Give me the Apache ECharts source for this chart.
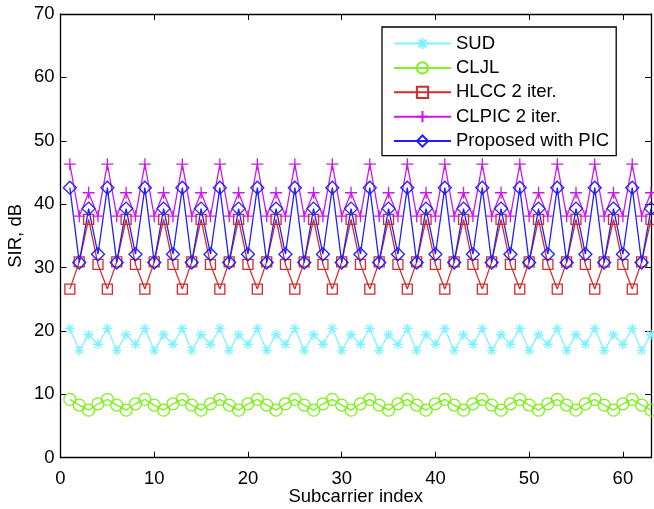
<!DOCTYPE html>
<html>
<head>
<meta charset="utf-8">
<script src="https://cdn.jsdelivr.net/npm/echarts@6/dist/echarts.min.js"></script>
<style>html,body{margin:0;padding:0;background:#fff;}#c{width:654px;height:509px;}</style>
</head>
<body>
<div id="c"></div>
<script>
const subcarrier = [1,2,3,4,5,6,7,8,9,10,11,12,13,14,15,16,17,18,19,20,21,22,23,24,25,26,27,28,29,30,31,32,33,34,35,36,37,38,39,40,41,42,43,44,45,46,47,48,49,50,51,52,53,54,55,56,57,58,59,60,61,62,63];
const sud = [20.4,16.9,19.4,17.9, 20.4,16.9,19.4,17.9, 20.4,16.9,19.4,17.9, 20.4,16.9,19.4,17.9, 20.4,16.9,19.4,17.9, 20.4,16.9,19.4,17.9, 20.4,16.9,19.4,17.9, 20.4,16.9,19.4,17.9, 20.4,16.9,19.4,17.9, 20.4,16.9,19.4,17.9, 20.4,16.9,19.4,17.9, 20.4,16.9,19.4,17.9, 20.4,16.9,19.4,17.9, 20.4,16.9,19.4,17.9, 20.4,16.9,19.4,17.9, 20.4,16.9,19.4];
const cljl = [9.2,8.3,7.5,8.5, 9.2,8.3,7.5,8.5, 9.2,8.3,7.5,8.5, 9.2,8.3,7.5,8.5, 9.2,8.3,7.5,8.5, 9.2,8.3,7.5,8.5, 9.2,8.3,7.5,8.5, 9.2,8.3,7.5,8.5, 9.2,8.3,7.5,8.5, 9.2,8.3,7.5,8.5, 9.2,8.3,7.5,8.5, 9.2,8.3,7.5,8.5, 9.2,8.3,7.5,8.5, 9.2,8.3,7.5,8.5, 9.2,8.3,7.5,8.5, 9.2,8.3,7.5];
const hlcc = [26.6,30.9,37.6,30.5, 26.6,30.9,37.6,30.5, 26.6,30.9,37.6,30.5, 26.6,30.9,37.6,30.5, 26.6,30.9,37.6,30.5, 26.6,30.9,37.6,30.5, 26.6,30.9,37.6,30.5, 26.6,30.9,37.6,30.5, 26.6,30.9,37.6,30.5, 26.6,30.9,37.6,30.5, 26.6,30.9,37.6,30.5, 26.6,30.9,37.6,30.5, 26.6,30.9,37.6,30.5, 26.6,30.9,37.6,30.5, 26.6,30.9,37.6,30.5, 26.6,30.9,37.6];
const clpic = [46.3,38.1,41.8,38.1, 46.3,38.1,41.8,38.1, 46.3,38.1,41.8,38.1, 46.3,38.1,41.8,38.1, 46.3,38.1,41.8,38.1, 46.3,38.1,41.8,38.1, 46.3,38.1,41.8,38.1, 46.3,38.1,41.8,38.1, 46.3,38.1,41.8,38.1, 46.3,38.1,41.8,38.1, 46.3,38.1,41.8,38.1, 46.3,38.1,41.8,38.1, 46.3,38.1,41.8,38.1, 46.3,38.1,41.8,38.1, 46.3,38.1,41.8,38.1, 46.3,38.1,41.8];
const proposed = [42.6,30.8,39.3,32.1, 42.6,30.8,39.3,32.1, 42.6,30.8,39.3,32.1, 42.6,30.8,39.3,32.1, 42.6,30.8,39.3,32.1, 42.6,30.8,39.3,32.1, 42.6,30.8,39.3,32.1, 42.6,30.8,39.3,32.1, 42.6,30.8,39.3,32.1, 42.6,30.8,39.3,32.1, 42.6,30.8,39.3,32.1, 42.6,30.8,39.3,32.1, 42.6,30.8,39.3,32.1, 42.6,30.8,39.3,32.1, 42.6,30.8,39.3,32.1, 42.6,30.8,39.3];
const seriesNames = ['SUD','CLJL','HLCC 2 iter.','CLPIC 2 iter.','Proposed with PIC'];
const xTicks = [0,10,20,30,40,50,60];
const yTicks = [0,10,20,30,40,50,60,70];

const FONT = 'Liberation Sans, Arial, Helvetica, sans-serif';
const FS = 18.5;
const STAR = 'path://M5,0L5,10M0,5L10,5M1.5,1.5L8.5,8.5M8.5,1.5L1.5,8.5';
const PLUS = 'path://M5,0L5,10M0,5L10,5';

function pairs(vals){ return subcarrier.map((x,i)=>[x, vals[i]]); }
function mk(name, vals, color, symbol, size){
  return {
    name, type:'line', data: pairs(vals), symbol, symbolSize: size,
    showAllSymbol: true, animation:false, clip:true,
    lineStyle:{color, width:1.3},
    itemStyle:{color:'rgba(255,255,255,0)', borderColor:color, borderWidth:1.3},
    emphasis:{disabled:true}
  };
}
function axLine(){ return {show:true, onZero:false, lineStyle:{color:'#000', width:1.3}}; }
function axTick(){ return {show:true, inside:true, length:6, lineStyle:{color:'#000', width:1}}; }
const chart = echarts.init(document.getElementById('c'), null, {renderer:'canvas'});
chart.setOption({
  backgroundColor:'#fff',
  animation:false,
  grid:{left:60.5, top:14, right:3, bottom:51.3, containLabel:false, outerBoundsMode:'none'},
  legend:{
    orient:'vertical', left:382, top:27,
    data: seriesNames,
    itemWidth:57, itemHeight:14, itemGap:5.4,
    padding:[7,7,5,11],
    backgroundColor:'#fff', borderColor:'#000', borderWidth:1.3, borderRadius:0,
    textStyle:{fontFamily:FONT, fontSize:FS, color:'#000'},
    selectedMode:false
  },
  xAxis:[
    {type:'value', min:0, max:63, interval:10, position:'bottom',
      name:'Subcarrier index', nameLocation:'middle', nameGap:29.5, nameMoveOverlap:false,
      nameTextStyle:{fontFamily:FONT, fontSize:FS, color:'#000'},
      axisLine:axLine(), axisTick:axTick(), splitLine:{show:false},
      axisLabel:{fontFamily:FONT, fontSize:FS, color:'#000', margin:12,
        formatter:v=> xTicks.includes(v) ? String(v) : ''}},
    {type:'value', min:0, max:63, interval:10, position:'top',
      axisLine:axLine(), axisTick:axTick(), splitLine:{show:false},
      axisLabel:{show:false}}
  ],
  yAxis:[
    {type:'value', min:0, max:70, interval:10, position:'left',
      name:'SIR, dB', nameLocation:'middle', nameGap:35, nameMoveOverlap:false,
      nameTextStyle:{fontFamily:FONT, fontSize:FS, color:'#000'},
      axisLine:axLine(), axisTick:axTick(), splitLine:{show:false},
      axisLabel:{fontFamily:FONT, fontSize:FS, color:'#000', margin:6,
        formatter:v=> yTicks.includes(v) ? String(v) : ''}},
    {type:'value', min:0, max:70, interval:10, position:'right',
      axisLine:axLine(), axisTick:axTick(), splitLine:{show:false},
      axisLabel:{show:false}}
  ],
  series:[
    mk(seriesNames[0], sud, '#80f2ff', STAR, 10),
    mk(seriesNames[1], cljl, '#80f020', 'circle', 12),
    mk(seriesNames[2], hlcc, '#d42a2a', 'rect', 10),
    mk(seriesNames[3], clpic, '#cc18ee', PLUS, 12),
    mk(seriesNames[4], proposed, '#1f1fff', 'diamond', 13)
  ]
});
</script>
</body>
</html>
